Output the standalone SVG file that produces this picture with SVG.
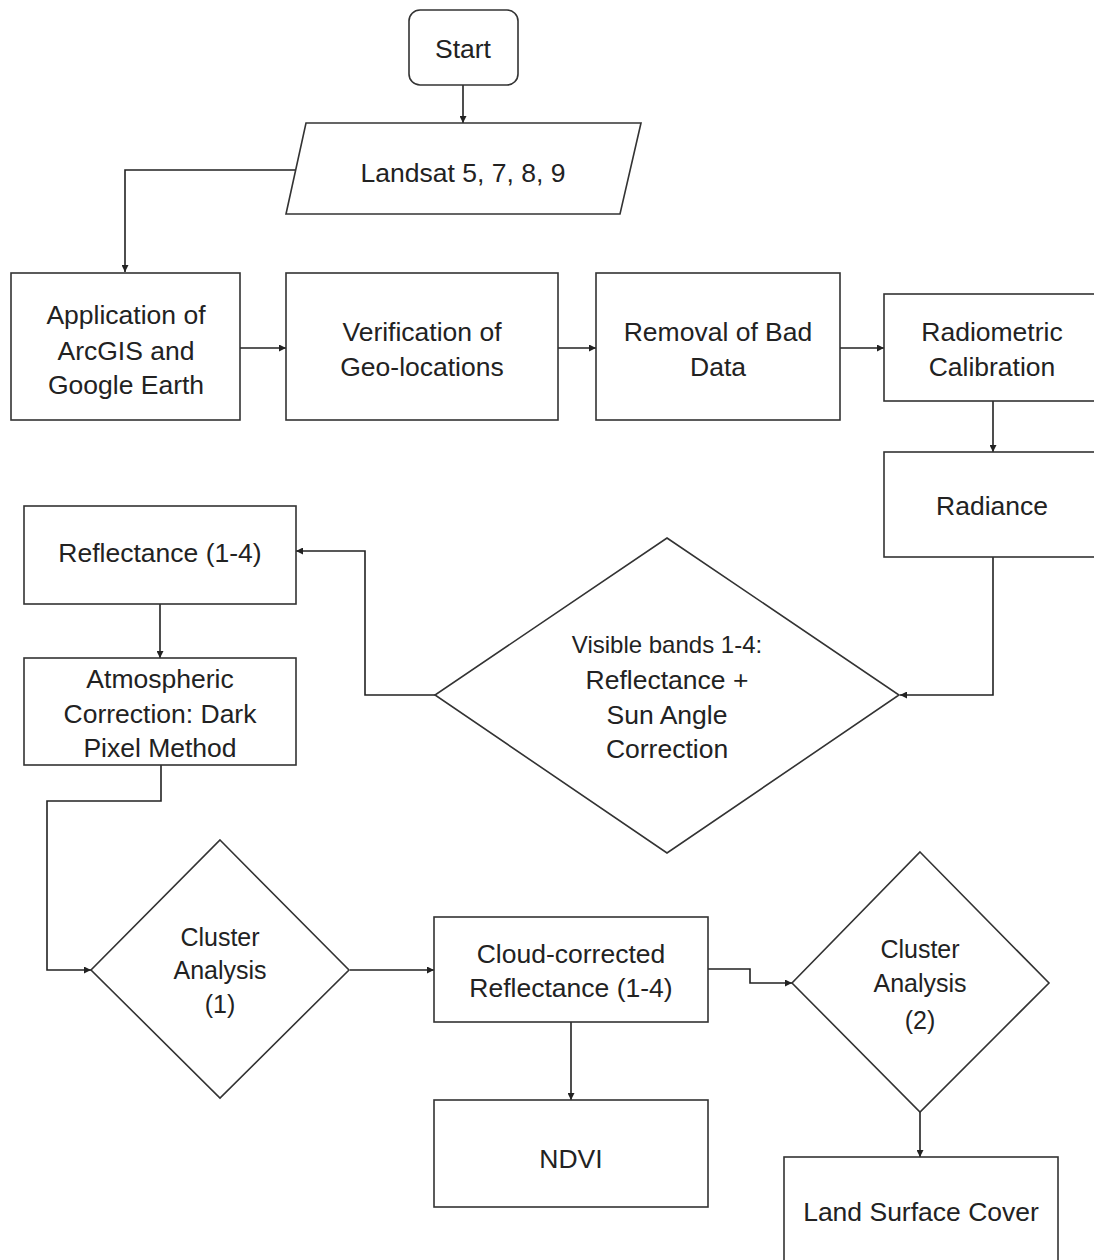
<svg xmlns="http://www.w3.org/2000/svg" width="1094" height="1260" viewBox="0 0 1094 1260">
<defs>
<marker id="ah" viewBox="0 0 10 10" refX="10" refY="5" markerWidth="7" markerHeight="7" markerUnits="userSpaceOnUse" orient="auto">
<path d="M0,0 L10,5 L0,10 z" fill="#222"/>
</marker>
<style>
.s{fill:#fff;stroke:#333;stroke-width:1.6}
.c{fill:none;stroke:#222;stroke-width:1.6;marker-end:url(#ah)}
text{font-family:"Liberation Sans",Arial,sans-serif;font-size:26.5px;fill:#222;text-anchor:middle}
.sm{font-size:24px}
.md{font-size:25px}
</style>
</defs>
<rect width="1094" height="1260" fill="#fff"/>
<g id="connectors">
<path class="c" d="M463,85 V123"/>
<path class="c" d="M296,170 H125 V272"/>
<path class="c" d="M240,348 H286"/>
<path class="c" d="M558,348 H596"/>
<path class="c" d="M840,348 H884"/>
<path class="c" d="M993,401 V452"/>
<path class="c" d="M993,557 V695 H900"/>
<path class="c" d="M435,695 H365 V551 H296"/>
<path class="c" d="M160,604 V658"/>
<path class="c" d="M161,765 V801 H47 V970 H91"/>
<path class="c" d="M350,970 H434"/>
<path class="c" d="M708,969 H750 V983 H792"/>
<path class="c" d="M571,1022 V1100"/>
<path class="c" d="M920,1112 V1157"/>
</g>
<g id="start">
<rect class="s" x="409" y="10" width="109" height="75" rx="11"/>
<text x="463" y="58">Start</text>
</g>
<g id="landsat">
<polygon class="s" points="306,123 641,123 620,214 286,214"/>
<text x="463" y="182">Landsat 5, 7, 8, 9</text>
</g>
<g id="application">
<rect class="s" x="11" y="273" width="229" height="147"/>
<text x="126" y="324">Application of</text>
<text x="126" y="360">ArcGIS and</text>
<text x="126" y="394">Google Earth</text>
</g>
<g id="verification">
<rect class="s" x="286" y="273" width="272" height="147"/>
<text x="422" y="341">Verification of</text>
<text x="422" y="376">Geo-locations</text>
</g>
<g id="removal">
<rect class="s" x="596" y="273" width="244" height="147"/>
<text x="718" y="341">Removal of Bad</text>
<text x="718" y="376">Data</text>
</g>
<g id="radiometric">
<rect class="s" x="884" y="294" width="218" height="107"/>
<text x="992" y="341">Radiometric</text>
<text x="992" y="376">Calibration</text>
</g>
<g id="radiance">
<rect class="s" x="884" y="452" width="218" height="105"/>
<text x="992" y="515">Radiance</text>
</g>
<g id="visible">
<polygon class="s" points="667,538 899,695 667,853 435,695"/>
<text class="sm" x="667" y="653">Visible bands 1-4:</text>
<text x="667" y="689">Reflectance +</text>
<text x="667" y="724">Sun Angle</text>
<text x="667" y="758">Correction</text>
</g>
<g id="reflectance">
<rect class="s" x="24" y="506" width="272" height="98"/>
<text x="160" y="562">Reflectance (1-4)</text>
</g>
<g id="atmospheric">
<rect class="s" x="24" y="658" width="272" height="107"/>
<text x="160" y="688">Atmospheric</text>
<text x="160" y="723">Correction: Dark</text>
<text x="160" y="757">Pixel Method</text>
</g>
<g id="cluster1">
<polygon class="s" points="220,840 349,970 220,1098 91,970"/>
<text class="md" x="220" y="946">Cluster</text>
<text class="md" x="220" y="979">Analysis</text>
<text class="md" x="220" y="1013">(1)</text>
</g>
<g id="cloud">
<rect class="s" x="434" y="917" width="274" height="105"/>
<text x="571" y="963">Cloud-corrected</text>
<text x="571" y="997">Reflectance (1-4)</text>
</g>
<g id="cluster2">
<polygon class="s" points="920,852 1049,983 920,1112 792,983"/>
<text class="md" x="920" y="958">Cluster</text>
<text class="md" x="920" y="992">Analysis</text>
<text class="md" x="920" y="1029">(2)</text>
</g>
<g id="ndvi">
<rect class="s" x="434" y="1100" width="274" height="107"/>
<text x="571" y="1168">NDVI</text>
</g>
<g id="landcover">
<rect class="s" x="784" y="1157" width="274" height="110"/>
<text x="921" y="1221">Land Surface Cover</text>
</g>
</svg>
